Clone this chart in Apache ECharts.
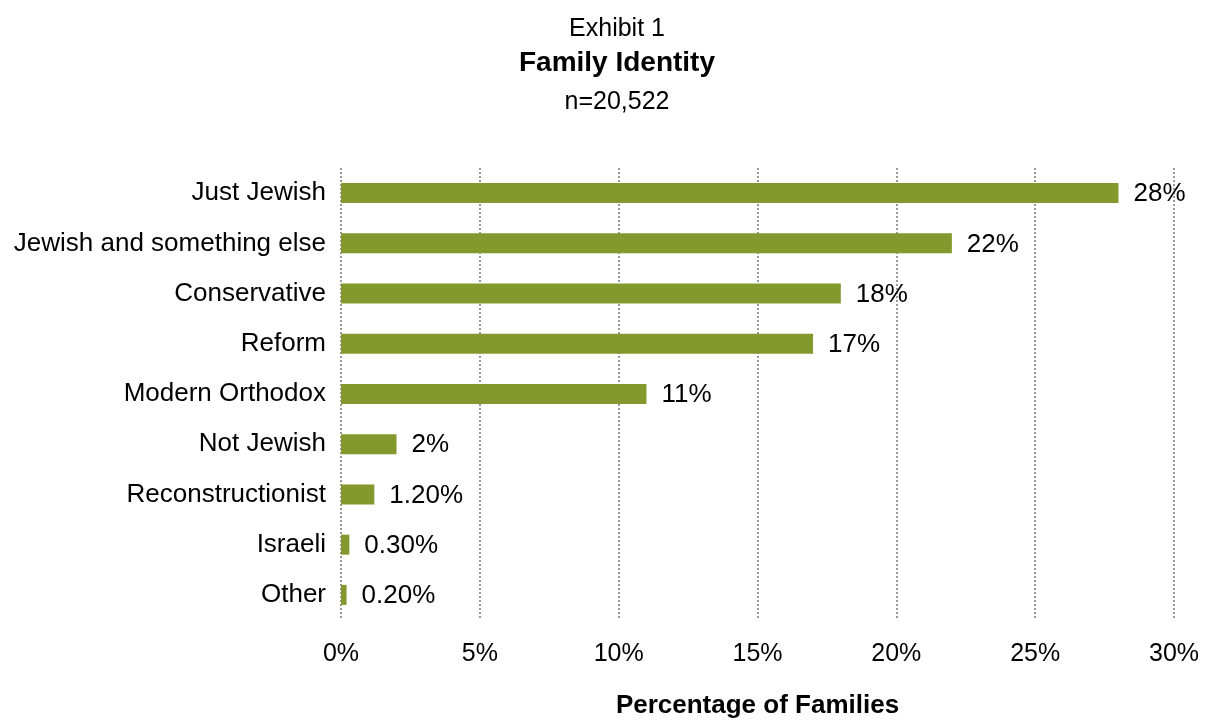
<!DOCTYPE html>
<html><head><meta charset="utf-8">
<script src="https://cdn.jsdelivr.net/npm/echarts@6/dist/echarts.min.js"></script>
<style>html,body{margin:0;padding:0;background:#fff}#c{width:1207px;height:720px}</style>
</head><body><div id="c"></div>
<script>
const categories = ["Just Jewish","Jewish and something else","Conservative","Reform","Modern Orthodox","Not Jewish","Reconstructionist","Israeli","Other"];
const values = [28,22,18,17,11,2,1.2,0.3,0.2];
const valueLabels = ["28%","22%","18%","17%","11%","2%","1.20%","0.30%","0.20%"];
const xTicks = [0,5,10,15,20,25,30];

const font = "'Liberation Sans', Arial, sans-serif";
const chart = echarts.init(document.getElementById('c'), null, {renderer:'canvas'});
chart.setOption({
  animation:false,
  backgroundColor:'#fff',
  title:[
    {text:'Exhibit 1', left:612, top:12, textAlign:'center', textStyle:{fontFamily:font,fontSize:25,fontWeight:'normal',color:'#000'}},
    {text:'Family Identity', left:612, top:44, textAlign:'center', textStyle:{fontFamily:font,fontSize:28,fontWeight:'bold',color:'#000'}},
    {text:'n=20,522', left:612, top:85, textAlign:'center', textStyle:{fontFamily:font,fontSize:25,fontWeight:'normal',color:'#000'}}
  ],
  grid:{left:341,right:33,top:168,bottom:100,containLabel:false,outerBoundsMode:'none'},
  xAxis:{
    type:'value',min:xTicks[0],max:xTicks[xTicks.length-1],interval:5,
    axisLine:{show:false},axisTick:{show:false},
    axisLabel:{formatter:v=>v+'%',fontFamily:font,fontSize:25,color:'#000',margin:22},
    splitLine:{show:true,lineStyle:{type:[2,2],color:'#999999',width:2}},
    name:'Percentage of Families',nameLocation:'middle',nameGap:73,
    nameTextStyle:{fontFamily:font,fontSize:26,fontWeight:'bold',color:'#000'}
  },
  yAxis:{
    type:'category',data:categories,inverse:true,
    axisLine:{show:false},axisTick:{show:false},
    axisLabel:{fontFamily:font,fontSize:26,color:'#000',margin:15,padding:[4,0,0,0]},
    splitLine:{show:false}
  },
  series:[{
    type:'bar',data:values,barWidth:20,
    itemStyle:{color:'#83992d'},
    label:{show:true,position:'right',distance:15,offset:[0,1],fontFamily:font,fontSize:26,color:'#000',
      formatter:p=>valueLabels[p.dataIndex]}
  }]
});
</script></body></html>
